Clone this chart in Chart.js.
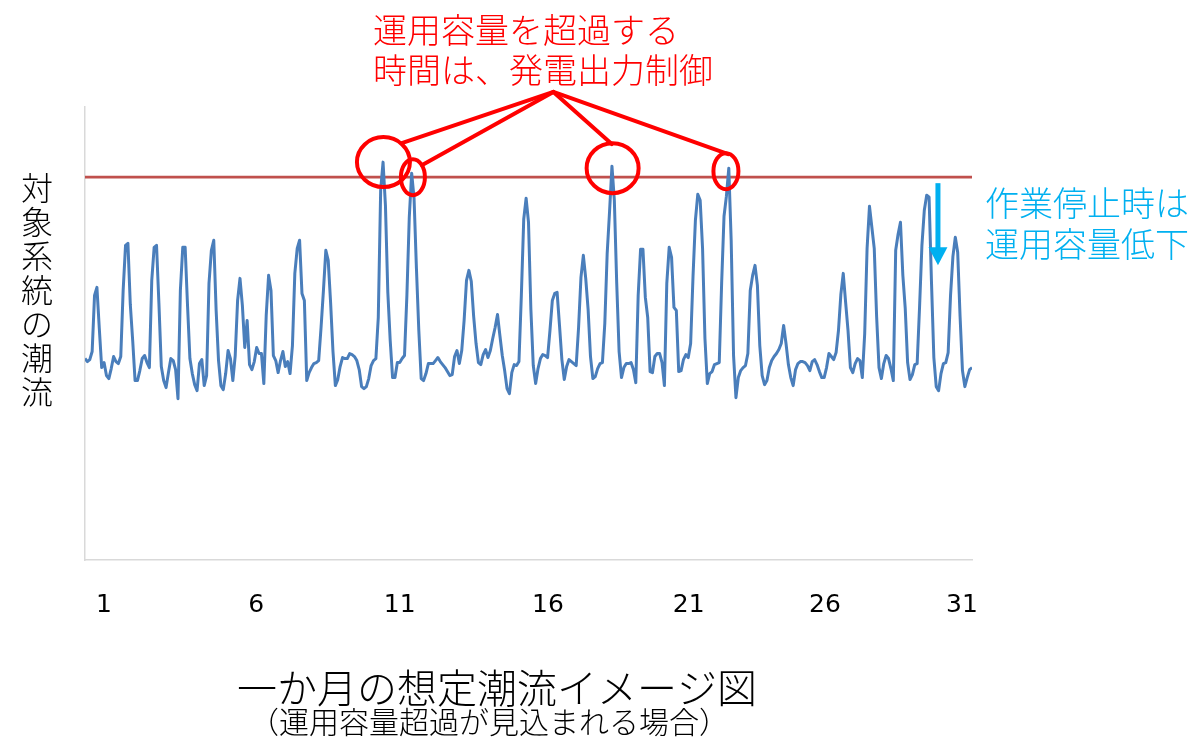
<!DOCTYPE html>
<html>
<head>
<meta charset="utf-8">
<script src="https://cdn.jsdelivr.net/npm/chart.js@4.4.0/dist/chart.umd.min.js"></script>
<style>
  html, body { margin: 0; padding: 0; background: #ffffff; }
  #wrap { width: 1194px; height: 741px; position: relative; }
</style>
</head>
<body>
<div id="wrap"><canvas id="c"></canvas></div>
<script>
// ---- data ----
// 31 days, 12 samples per day (every 2 hours), flow in arbitrary units
const samplesPerDay = 12;
const flow = [
  201,198,200,208,264,272,231,192,197,184,181,191,   // day 1
  203,198,196,203,269,314,316,255,219,179,179,189,   // day 2
  201,204,197,192,279,312,314,256,193,179,172,187,   // day 3
  201,199,190,161,269,312,312,254,201,186,175,169,   // day 4
  196,200,174,184,276,309,319,249,199,174,170,186,   // day 5
  209,201,179,204,259,281,254,212,239,195,190,198,   // day 6
  212,206,206,176,244,284,269,204,199,187,199,208,   // day 7
  193,198,186,214,286,311,319,266,259,179,187,192,   // day 8
  196,197,199,232,269,309,299,257,208,174,180,193,   // day 9
  202,201,201,206,205,203,199,190,173,171,173,181,   // day 10
  194,199,201,242,369,397,354,267,219,182,182,197,   // day 11
  197,201,204,264,342,386,361,291,229,181,179,186,   // day 12
  196,196,196,199,202,198,195,192,188,184,185,203,   // day 13
  209,196,209,239,279,289,278,243,216,197,195,205,   // day 14
  210,202,209,221,232,245,224,204,189,171,166,187,   // day 15
  195,194,198,264,340,361,337,250,194,176,191,201,   // day 16
  205,204,202,229,259,266,267,234,200,180,193,200,   // day 17
  198,196,194,232,282,304,281,250,203,181,183,191,   // day 18
  196,197,236,306,348,393,359,276,208,182,192,196,   // day 19
  196,197,190,177,264,310,310,262,242,188,187,203,   // day 20
  206,206,197,174,276,312,302,252,249,188,189,200,   // day 21
  205,202,216,283,339,365,359,311,221,176,186,188,   // day 22
  195,196,197,276,343,363,391,319,204,162,182,189,   // day 23
  192,194,206,269,284,294,274,214,184,175,179,192,   // day 24
  199,203,206,210,216,234,216,195,182,174,190,196,   // day 25
  198,198,197,194,189,198,200,195,188,182,182,192,   // day 26
  206,203,200,207,229,265,286,257,229,192,187,196,   // day 27
  201,199,182,226,311,353,332,311,243,192,181,196,   // day 28
  204,201,191,179,309,325,337,284,251,197,180,185,   // day 29
  195,196,252,314,349,364,362,278,202,173,169,186,   // day 30
  196,197,207,264,303,322,307,243,189,173,182,190,   // day 31
  192
];
const capacity = 382;          // 運用容量
const yMin = 0, yMax = 452;
const xMin = 0, xMax = 31;     // days

const tickLabels = ['1','6','11','16','21','26','31'];
const tickValues = [0.66, 5.98, 11.0, 16.18, 21.1, 25.86, 30.65];

// annotations (data units: day, value)
const apex = { day: 16.37, value: 467 };
const leaderEnds = [
  { day: 11.07, value: 416 },
  { day: 11.77, value: 394 },
  { day: 18.41, value: 415 },
  { day: 22.48, value: 405 }
];
const circles = [
  { day: 10.43, value: 397, rx: 26.5, ry: 25 },
  { day: 11.46, value: 382, rx: 12, ry: 18 },
  { day: 18.44, value: 391, rx: 26, ry: 25 },
  { day: 22.40, value: 388, rx: 12.5, ry: 18 }
];
const arrow = { day: 29.81, from: 376, headStart: 312, to: 294 };

const flowPoints = flow.map((v, i) => ({ x: i / samplesPerDay, y: v }));
const capPoints = [{ x: xMin, y: capacity }, { x: xMax, y: capacity }];

const annotPlugin = {
  id: 'annot',
  afterDatasetsDraw(chart) {
    const { ctx } = chart;
    const xs = chart.scales.x, ys = chart.scales.y;
    ctx.save();
    // red leader lines
    ctx.strokeStyle = '#ff0000';
    ctx.lineWidth = 4;
    ctx.lineCap = 'round';
    const ax = xs.getPixelForValue(apex.day), ay = ys.getPixelForValue(apex.value);
    leaderEnds.forEach(e => {
      ctx.beginPath();
      ctx.moveTo(ax, ay);
      ctx.lineTo(xs.getPixelForValue(e.day), ys.getPixelForValue(e.value));
      ctx.stroke();
    });
    circles.forEach(c => {
      ctx.beginPath();
      ctx.ellipse(xs.getPixelForValue(c.day), ys.getPixelForValue(c.value), c.rx, c.ry, 0, 0, Math.PI * 2);
      ctx.stroke();
    });
    // blue arrow
    ctx.fillStyle = '#00b0f0';
    const px = xs.getPixelForValue(arrow.day);
    const yTop = ys.getPixelForValue(arrow.from);
    const yHead = ys.getPixelForValue(arrow.headStart);
    const yTip = ys.getPixelForValue(arrow.to);
    ctx.fillRect(px - 2.5, yTop, 5, yHead - yTop + 1);
    ctx.beginPath();
    ctx.moveTo(px - 9.5, yHead);
    ctx.lineTo(px + 9.5, yHead);
    ctx.lineTo(px, yTip);
    ctx.closePath();
    ctx.fill();

    // texts
    const jp = '"Noto Sans CJK JP", sans-serif';
    ctx.textBaseline = 'middle';
    ctx.textAlign = 'left';
    ctx.fillStyle = '#ff0000';
    ctx.font = '300 34px ' + jp;
    ctx.fillText('運用容量を超過する', 373, 30);
    ctx.fillText('時間は、発電出力制御', 373, 70);

    ctx.fillStyle = '#00b0f0';
    ctx.fillText('作業停止時は', 985, 203);
    ctx.fillText('運用容量低下', 985, 244);

    ctx.fillStyle = '#000000';
    ctx.textAlign = 'center';
    ctx.font = '300 32px ' + jp;
    const yTitle = '対象系統の潮流';
    [...yTitle].forEach((ch, i) => ctx.fillText(ch, 37, 188 + i * 34));

    ctx.font = '300 40px ' + jp;
    ctx.fillText('一か月の想定潮流イメージ図', 497, 688);
    ctx.font = '300 30px ' + jp;
    ctx.fillText('（運用容量超過が見込まれる場合）', 489, 722);
    ctx.restore();
  }
};

new Chart(document.getElementById('c'), {
  type: 'line',
  data: {
    datasets: [
      { data: flowPoints, borderColor: '#4a7ebb', borderWidth: 3, pointRadius: 0, tension: 0, fill: false, borderJoinStyle: 'round' },
      { data: capPoints, borderColor: '#c0504d', borderWidth: 2.6, pointRadius: 0, tension: 0, fill: false }
    ]
  },
  options: {
    responsive: true,
    maintainAspectRatio: false,
    animation: false,
    events: [],
    layout: { padding: { left: 85, right: 222, top: 107, bottom: 91 } },
    plugins: { legend: { display: false }, tooltip: { enabled: false }, title: { display: false } },
    scales: {
      x: {
        type: 'linear', min: xMin, max: xMax,
        grid: { display: false, drawTicks: false },
        border: { display: true, color: '#d9d9d9', width: 1.5 },
        afterBuildTicks: (s) => { s.ticks = tickValues.map(v => ({ value: v })); },
        ticks: {
          autoSkip: false, maxRotation: 0, minRotation: 0, padding: 30,
          color: '#000000',
          font: { family: 'DejaVu Sans', size: 25 },
          callback: (v, i) => tickLabels[i]
        }
      },
      y: {
        type: 'linear', min: yMin, max: yMax,
        grid: { display: false, drawTicks: false },
        border: { display: true, color: '#d9d9d9', width: 1.5 },
        ticks: { display: false }
      }
    }
  },
  plugins: [annotPlugin]
});
</script>
</body>
</html>
